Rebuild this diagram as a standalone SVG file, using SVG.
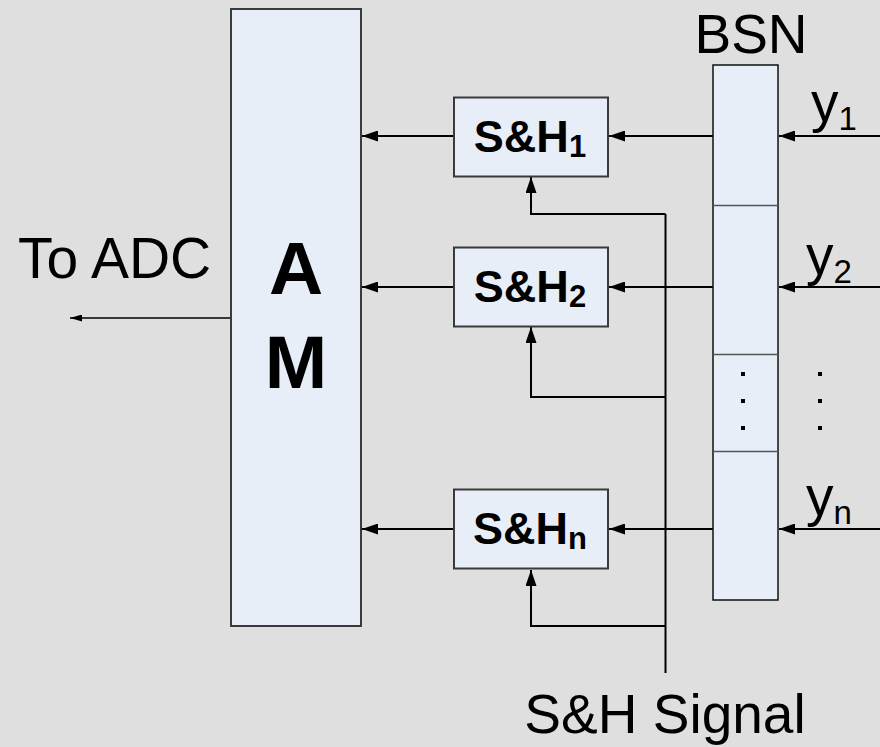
<svg xmlns="http://www.w3.org/2000/svg" width="880" height="747" viewBox="0 0 880 747">
  <defs>
    <marker id="ah" markerUnits="userSpaceOnUse" markerWidth="17" markerHeight="11" refX="16" refY="5.5" orient="auto">
      <path d="M0,0 L16,5.5 L0,11 z" fill="#000"/>
    </marker>
    <marker id="ahs" markerUnits="userSpaceOnUse" markerWidth="13" markerHeight="7" refX="12" refY="3.5" orient="auto">
      <path d="M0,0 L12,3.5 L0,7 z" fill="#000"/>
    </marker>
  </defs>
  <style>
    .box { fill: #e7eef8; stroke: #3a3a3a; stroke-width: 2; }
    .bsn { fill: #e7eef8; stroke: #111; stroke-width: 1.5; }
    .div { stroke: #555; stroke-width: 1.5; }
    .con { fill: none; stroke: #000; stroke-width: 2; }
    .arr { marker-end: url(#ah); }
    .lbl { font-family: "Liberation Sans", Arial, sans-serif; font-size: 55px; fill: #000; }
    .big { font-family: "Liberation Sans", Arial, sans-serif; font-weight: bold; font-size: 75px; fill: #000; text-anchor: middle; }
    .sh { font-family: "Liberation Sans", Arial, sans-serif; font-weight: bold; font-size: 45px; fill: #000; text-anchor: middle; }
    .sub { font-size: 31px; }
    .ysub { font-size: 33px; }
    .dot { fill: #000; }
  </style>
  <rect width="880" height="747" fill="#dfdfdf"/>

  <g id="connectors">
    <!-- inputs to BSN -->
    <line class="con arr" x1="880" y1="136" x2="779" y2="136"/>
    <line class="con arr" x1="880" y1="287" x2="779" y2="287"/>
    <line class="con arr" x1="880" y1="529" x2="779" y2="529"/>
    <!-- BSN to S&H -->
    <line class="con arr" x1="713" y1="136" x2="609" y2="136"/>
    <line class="con arr" x1="713" y1="287" x2="609" y2="287"/>
    <line class="con arr" x1="713" y1="529" x2="609" y2="529"/>
    <!-- S&H to AM -->
    <line class="con arr" x1="454" y1="136" x2="362" y2="136"/>
    <line class="con arr" x1="454" y1="287" x2="362" y2="287"/>
    <line class="con arr" x1="454" y1="529" x2="362" y2="529"/>
    <!-- S&H signal -->
    <line class="con" x1="665.5" y1="214" x2="665.5" y2="673"/>
    <polyline class="con arr" points="665.5,214 531,214 531,177"/>
    <polyline class="con arr" points="665.5,397 531,397 531,327"/>
    <polyline class="con arr" points="665.5,626 531,626 531,570"/>
    <!-- To ADC -->
    <line x1="231" y1="318" x2="70" y2="318" stroke="#000" stroke-width="1.3" marker-end="url(#ahs)"/>
  </g>

  <g id="AM">
    <rect class="box" x="231" y="9" width="130" height="617"/>
    <text class="big" x="296" y="294">A</text>
    <text class="big" x="296" y="388">M</text>
  </g>

  <g id="SH1">
    <rect class="box" x="454" y="97.5" width="154" height="79"/>
    <text class="sh" x="530" y="152">S&amp;H<tspan class="sub" dy="5">1</tspan></text>
  </g>
  <g id="SH2">
    <rect class="box" x="454" y="247.5" width="154" height="79"/>
    <text class="sh" x="530" y="302">S&amp;H<tspan class="sub" dy="5">2</tspan></text>
  </g>
  <g id="SHn">
    <rect class="box" x="454" y="489.5" width="154" height="79"/>
    <text class="sh" x="530" y="544">S&amp;H<tspan class="sub" dy="5">n</tspan></text>
  </g>

  <g id="BSN">
    <rect class="bsn" x="713" y="65" width="65" height="535"/>
    <line class="div" x1="713" y1="205.5" x2="778" y2="205.5"/>
    <line class="div" x1="713" y1="354.5" x2="778" y2="354.5"/>
    <line class="div" x1="713" y1="451.5" x2="778" y2="451.5"/>
    <rect class="dot" x="741" y="372" width="4" height="4"/>
    <rect class="dot" x="741" y="399" width="4" height="4"/>
    <rect class="dot" x="741" y="426" width="4" height="4"/>
    <text class="lbl" x="751" y="53" text-anchor="middle">BSN</text>
  </g>

  <g id="labels">
    <text class="lbl" x="18" y="278" style="font-size:57px">To ADC</text>
    <text class="lbl" x="665" y="733" text-anchor="middle">S&amp;H Signal</text>
    <text class="lbl" x="811" y="121">y<tspan class="ysub" dy="9">1</tspan></text>
    <text class="lbl" x="806" y="274">y<tspan class="ysub" dy="9">2</tspan></text>
    <text class="lbl" x="806" y="515">y<tspan class="ysub" dy="9">n</tspan></text>
    <rect class="dot" x="818" y="372" width="4" height="4"/>
    <rect class="dot" x="818" y="399" width="4" height="4"/>
    <rect class="dot" x="818" y="426" width="4" height="4"/>
  </g>
</svg>
